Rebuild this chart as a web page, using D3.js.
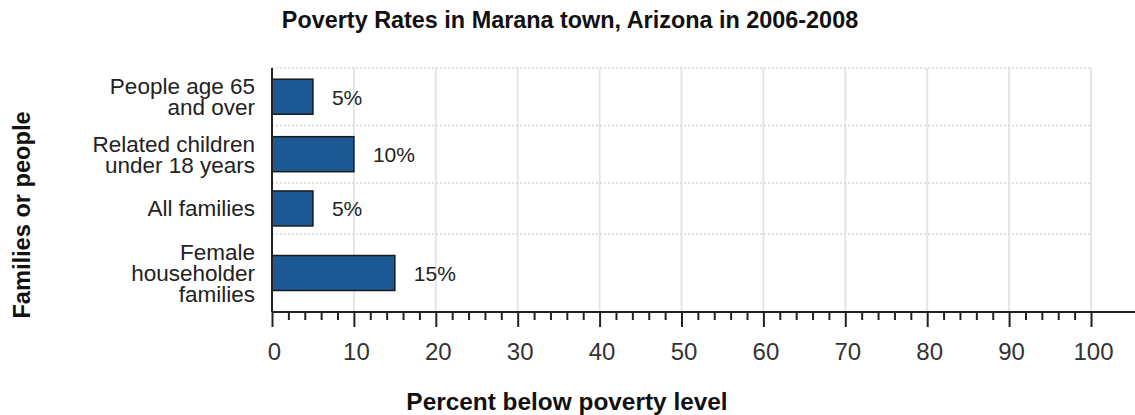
<!DOCTYPE html>
<html>
<head>
<meta charset="utf-8">
<script src="https://cdn.jsdelivr.net/npm/d3@7"></script>
<style>
  body { margin: 0; background: #fff; }
  svg { display: block; font-family: Arial, "Liberation Sans", sans-serif; }
</style>
</head>
<body>
<svg id="chart"></svg>
<script>
// chart data
const categories = [
    ['People age 65', 'and over'],
    ['Related children', 'under 18 years'],
    ['All families'],
    ['Female', 'householder', 'families']
];
const values = [5, 10, 5, 15];
const valueLabels = ['5%', '10%', '5%', '15%'];
const xTicks = [0, 10, 20, 30, 40, 50, 60, 70, 80, 90, 100];
const minorStep = 2;

const title = 'Poverty Rates in Marana town, Arizona in 2006-2008';
const xTitle = 'Percent below poverty level';
const yTitle = 'Families or people';

const width = 1135, height = 415;
const plot = {left: 272, right: 1091, top: 68, bottom: 312};
const lineH = 20.7, barH = 35, rowPad = 16.5;

const svg = d3.select('#chart')
    .attr('width', width)
    .attr('height', height);

svg.append('rect').attr('width', width).attr('height', height).attr('fill', '#fff');

const xScale = d3.scaleLinear().domain([0, 100]).range([plot.left, plot.right]);

// rows grow with the number of label lines
const rowSizes = categories.map(c => Math.max(barH, c.length * lineH) + rowPad);
const rowStart = [0];
rowSizes.forEach(s => rowStart.push(rowStart[rowStart.length - 1] + s));
const yScale = d3.scaleLinear()
    .domain([0, rowStart[rowStart.length - 1]])
    .range([plot.top, plot.bottom]);
const rowCenter = i => yScale(rowStart[i] + rowSizes[i] / 2);

// vertical grid
svg.append('g')
    .selectAll('line')
    .data(xTicks.filter(d => d > 0))
    .enter()
    .append('line')
    .attr('x1', d => xScale(d))
    .attr('x2', d => xScale(d))
    .attr('y1', plot.top)
    .attr('y2', plot.bottom)
    .style('stroke', '#e4e4ef')
    .style('stroke-width', 2);

// horizontal dotted row separators
svg.append('g')
    .selectAll('line')
    .data(rowStart.slice(0, -1))
    .enter()
    .append('line')
    .attr('x1', plot.left)
    .attr('x2', plot.right)
    .attr('y1', d => yScale(d))
    .attr('y2', d => yScale(d))
    .style('stroke', '#d6d6de')
    .style('stroke-width', 1.5)
    .style('stroke-dasharray', '2,2');

// bars
svg.append('g')
    .selectAll('rect')
    .data(values)
    .enter()
    .append('rect')
    .attr('x', xScale(0))
    .attr('y', (d, i) => rowCenter(i) - barH / 2)
    .attr('width', d => xScale(d) - xScale(0))
    .attr('height', barH)
    .style('fill', '#1d5a95')
    .style('stroke', '#1a1a1a')
    .style('stroke-width', 1.5);

// value labels
svg.append('g')
    .selectAll('text')
    .data(values)
    .enter()
    .append('text')
    .attr('x', d => xScale(d) + 19)
    .attr('y', (d, i) => rowCenter(i) + 8)
    .style('font-size', '21px')
    .style('fill', '#222')
    .text((d, i) => valueLabels[i]);

// category labels
const catG = svg.append('g');
categories.forEach((lines, i) => {
    const t = catG.append('text')
        .attr('text-anchor', 'end')
        .style('font-size', '22.5px')
        .style('fill', '#222');
    lines.forEach((line, j) => {
        t.append('tspan')
            .attr('x', 255)
            .attr('y', rowCenter(i) + (j - (lines.length - 1) / 2) * lineH + 8)
            .text(line);
    });
});

// x axis: minor ticks, then major ticks with labels
const minorTicks = d3.range(0, 101, minorStep).filter(d => d % 10 !== 0);
svg.append('g')
    .attr('class', 'x-minor')
    .attr('transform', `translate(0, ${plot.bottom})`)
    .call(d3.axisBottom(xScale).tickValues(minorTicks).tickSize(8).tickFormat(''))
    .call(g => g.select('.domain').remove());

const xAxis = svg.append('g')
    .attr('class', 'x-axis')
    .attr('transform', `translate(0, ${plot.bottom})`)
    .call(d3.axisBottom(xScale).tickValues(xTicks).tickSize(15).tickPadding(16));
xAxis.select('.domain').remove();
xAxis.selectAll('text')
    .attr('dx', 2)
    .style('font-size', '24px')
    .style('font-family', 'Arial, "Liberation Sans", sans-serif')
    .style('fill', '#333');
svg.selectAll('.x-axis line, .x-minor line')
    .style('stroke', '#222')
    .style('stroke-width', 2);

// axis lines
svg.append('line')
    .attr('x1', xScale(0)).attr('x2', width)
    .attr('y1', plot.bottom).attr('y2', plot.bottom)
    .style('stroke', '#222').style('stroke-width', 2);
svg.append('line')
    .attr('x1', xScale(0)).attr('x2', xScale(0))
    .attr('y1', plot.top).attr('y2', plot.bottom)
    .style('stroke', '#222').style('stroke-width', 2);

// titles
svg.append('text')
    .attr('x', 570)
    .attr('y', 28)
    .attr('text-anchor', 'middle')
    .style('font-size', '23.4px')
    .style('font-weight', 'bold')
    .style('fill', '#111')
    .text(title);

svg.append('text')
    .attr('x', 567)
    .attr('y', 410)
    .attr('text-anchor', 'middle')
    .style('font-size', '24.4px')
    .style('font-weight', 'bold')
    .style('fill', '#111')
    .text(xTitle);

svg.append('text')
    .attr('transform', 'translate(30, 215) rotate(-90)')
    .attr('text-anchor', 'middle')
    .style('font-size', '23.6px')
    .style('font-weight', 'bold')
    .style('fill', '#111')
    .text(yTitle);
</script>
</body>
</html>
